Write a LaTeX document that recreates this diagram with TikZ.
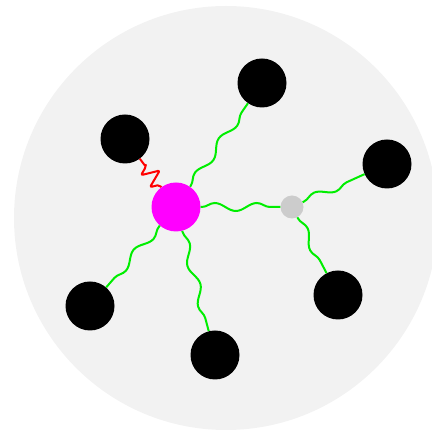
\documentclass[tikz,border=0pt]{standalone}
\usetikzlibrary{decorations.pathmorphing}
\definecolor{bg}{HTML}{F2F2F2}
\definecolor{lgreen}{HTML}{00EE00}
\definecolor{gnode}{HTML}{CCCCCC}
\definecolor{hubcol}{HTML}{FF00FF}
\definecolor{rcol}{HTML}{FF0000}
\tikzset{
  blackball/.style={circle,fill=black,minimum size=49pt,inner sep=0pt},
  hub/.style={circle,fill=hubcol,minimum size=49pt,inner sep=0pt},
  joint/.style={circle,fill=gnode,minimum size=23pt,inner sep=0pt},
  gwave/.style={draw=lgreen,line width=2pt,decorate,decoration={snake,segment length=42pt,amplitude=4pt,pre length=1pt,post length=1pt}},
  rwave/.style={draw=rcol,line width=2pt,line join=round,rounded corners=2pt,decorate,decoration={zigzag,segment length=15pt,amplitude=9pt,pre length=3pt,post length=3pt}}
}
\begin{document}
\begin{tikzpicture}[x=1pt,y=-1pt]
\useasboundingbox (0,0) rectangle (432,430);
\fill[bg] (226,218) circle (212);
\node[blackball] (a) at (262,83) {};
\node[blackball] (b) at (125,139) {};
\node[blackball] (c) at (387,164) {};
\node[blackball] (d) at (90,306) {};
\node[blackball] (e) at (215,355) {};
\node[blackball] (f) at (338,295) {};
\node[hub] (m) at (176,207) {};
\node[joint] (g) at (292,207) {};
\draw[gwave] (m) -- (a);
\draw[rwave] (m) -- (b);
\draw[gwave] (m) -- (g);
\draw[gwave] (g) -- (c);
\draw[gwave] (g) -- (f);
\draw[gwave] (m) -- (d);
\draw[gwave] (m) -- (e);
\end{tikzpicture}
\end{document}
